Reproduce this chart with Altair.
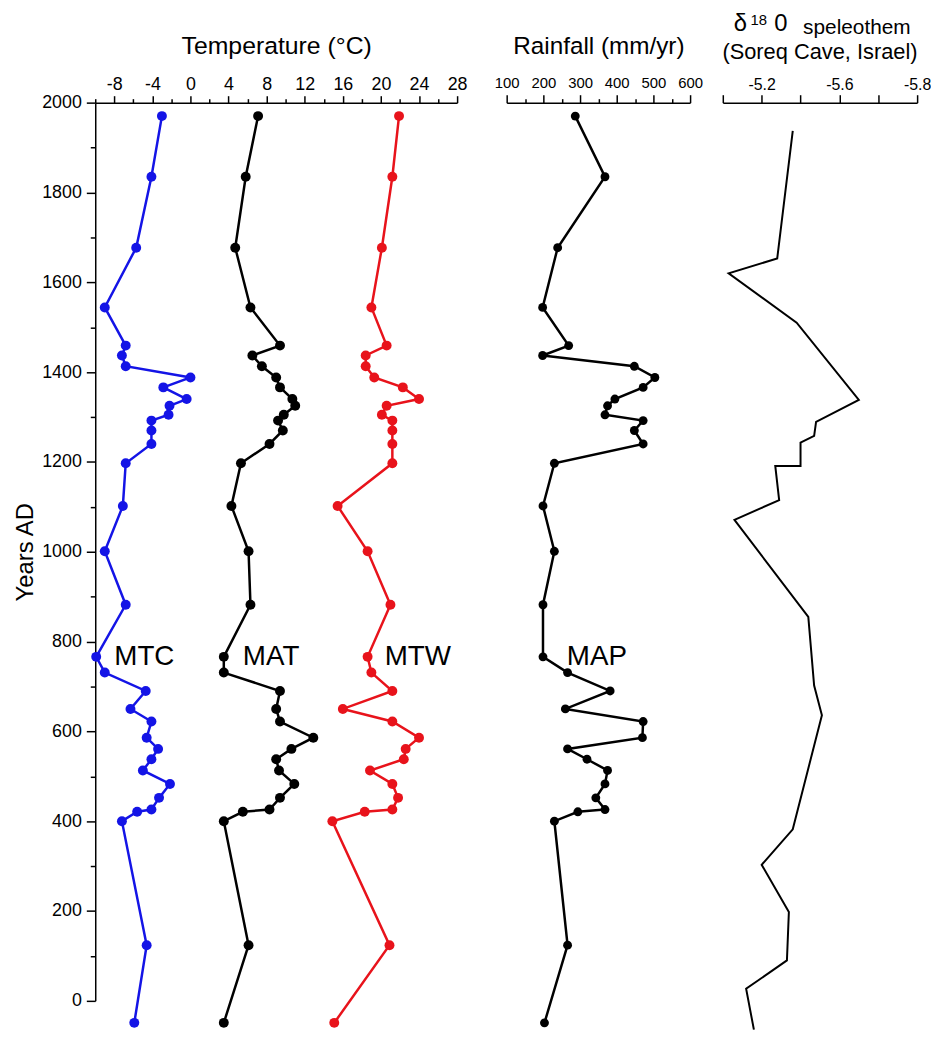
import altair as alt
import pandas as pd

FONT = "Liberation Sans"

# ---- data ----
years = [1970, 1835, 1677, 1544, 1459, 1437, 1413, 1388, 1366, 1340, 1325, 1305,
         1292, 1270, 1240, 1197, 1102, 1001, 882, 766, 731, 690, 650, 622, 586,
         561, 538, 513, 483, 452, 426, 421, 400, 124, -49]
mtc = [-3.0, -4.1, -5.7, -9.0, -6.8, -7.2, -6.8, 0.0, -2.85, -0.4, -2.2, -2.3,
       -4.1, -4.1, -4.1, -6.8, -7.1, -9.0, -6.8, -9.9, -9.0, -4.7, -6.3, -4.1,
       -4.6, -3.4, -4.1, -5.0, -2.15, -3.3, -4.1, -5.6, -7.2, -4.6, -5.9]
mat = [7.1, 5.8, 4.7, 6.3, 9.4, 6.5, 7.5, 9.0, 9.4, 10.7, 11.0, 9.8, 9.2, 9.7,
       8.3, 5.3, 4.3, 6.1, 6.3, 3.5, 3.5, 9.4, 9.0, 9.4, 12.9, 10.6, 9.0, 9.3,
       10.9, 9.4, 8.3, 5.5, 3.5, 6.1, 3.5]
mtw = [21.9, 21.2, 20.1, 19.0, 20.6, 18.4, 18.4, 19.3, 22.3, 24.0, 20.6, 20.1,
       21.2, 21.2, 21.2, 21.2, 15.45, 18.6, 21.0, 18.6, 19.0, 21.2, 16.0, 21.2,
       24.0, 22.6, 22.4, 18.85, 21.2, 21.8, 21.2, 18.3, 14.9, 20.9, 15.1]
rain = [287, 368, 239, 198, 269, 198, 448, 504, 472, 395, 375, 368, 472, 448,
        472, 230, 199, 230, 199, 199, 266, 382, 260, 472, 470, 266, 319, 375,
        368, 343, 368, 294, 230, 266, 203]

d18o_years = [1937, 1653, 1620, 1510, 1338, 1289, 1258, 1243, 1191, 1191, 1115,
              1071, 855, 702, 636, 382, 303, 198, 90, 27, -64]
d18o_vals = [-5.36, -5.28, -5.03, -5.38, -5.70, -5.48, -5.47, -5.40, -5.40,
             -5.27, -5.29, -5.06, -5.44, -5.47, -5.51, -5.36, -5.20, -5.34,
             -5.33, -5.12, -5.16]

temp_labels = ["MTC", "MAT", "MTW"]
temp_label_x = [-8.0, 5.5, 20.4]
map_label = ["MAP"]
map_label_x = [264]
label_year = 748

y_major_ticks = list(range(0, 2001, 200))
y_minor_ticks = list(range(100, 2000, 200))
t_major_ticks = list(range(-8, 29, 4))
t_minor_ticks = list(range(-10, 27, 4))
r_major_ticks = list(range(100, 601, 100))
r_minor_ticks = list(range(150, 551, 100))
d_ticks = [-5.0, -5.2, -5.4, -5.6, -5.8, -6.0]

df = pd.DataFrame({"idx": list(range(len(years))), "year": years,
                   "MTC": mtc, "MAT": mat, "MTW": mtw, "MAP": rain})
dd = pd.DataFrame({"idx": list(range(len(d18o_years))), "year": d18o_years,
                   "d18O": d18o_vals})
tl = pd.DataFrame({"name": temp_labels, "x": temp_label_x,
                   "year": [label_year] * len(temp_labels)})
ml = pd.DataFrame({"name": map_label, "x": map_label_x,
                   "year": [label_year] * len(map_label)})

BLUE = "#1414e6"
RED = "#e8131b"
BLACK = "#000000"
H = 906

yscale = alt.Scale(domain=[0, 2000], nice=False, zero=False)
tscale = alt.Scale(domain=[-10, 28], nice=False, zero=False)
rscale = alt.Scale(domain=[100, 600], nice=False, zero=False)
dscale = alt.Scale(domain=[-6.0, -5.0], reverse=True, nice=False, zero=False)

PLAIN = "'' + datum.value"

y_major = alt.Axis(orient="left", values=y_major_ticks, labelExpr=PLAIN,
                   labelFlush=False, title="Years AD", titleFontSize=24,
                   titleFontWeight="normal", labelFontSize=18, tickSize=9,
                   labelPadding=5, titlePadding=4)
y_minor = alt.Axis(orient="left", values=y_minor_ticks, labels=False,
                   domain=False, tickSize=5, title=None)

t_major = alt.Axis(orient="top", values=t_major_ticks, labelExpr=PLAIN,
                   labelOverlap=False, labelFlush=False, title="Temperature (°C)",
                   titleFontSize=25, titleFontWeight="normal", titlePadding=18,
                   labelFontSize=18, tickSize=7, labelPadding=2)
t_minor = alt.Axis(orient="top", values=t_minor_ticks, labels=False,
                   domain=False, tickSize=4, title=None)

r_major = alt.Axis(orient="top", values=r_major_ticks, labelExpr=PLAIN,
                   labelOverlap=False, labelFlush=False, title="Rainfall (mm/yr)",
                   titleFontSize=24.5, titleFontWeight="normal", titlePadding=18,
                   labelFontSize=15, tickSize=8, labelPadding=4)
r_minor = alt.Axis(orient="top", values=r_minor_ticks, labels=False,
                   domain=False, tickSize=4, title=None)

d_axis = alt.Axis(orient="top", values=d_ticks, title=None, labelFontSize=16,
                  labelOverlap=False, labelFlush=False, tickSize=8, labelPadding=2,
                  labelExpr="datum.value == -5.2 ? '-5.2' : datum.value == -5.6 ? '-5.6' : datum.value == -6 ? '-5.8' : ''")


def series(data, field, scale, color, xaxis, yaxis, size):
    line = alt.Chart(data).mark_line(color=color, strokeWidth=2.5).encode(
        x=alt.X(f"{field}:Q", scale=scale, axis=xaxis),
        y=alt.Y("year:Q", scale=yscale, axis=yaxis),
        order="idx:Q",
    )
    pts = alt.Chart(data).mark_circle(color=color, size=size, opacity=1).encode(
        x=alt.X(f"{field}:Q", scale=scale, axis=None),
        y=alt.Y("year:Q", scale=yscale, axis=None),
    )
    return [line, pts]


def labels(data, scale):
    return alt.Chart(data).mark_text(align="left", baseline="alphabetic",
                                     fontSize=28, font=FONT, color=BLACK).encode(
        x=alt.X("x:Q", scale=scale, axis=None),
        y=alt.Y("year:Q", scale=yscale, axis=None),
        text="name:N",
    )


p1 = alt.layer(
    *series(df, "MTC", tscale, BLUE, t_major, y_major, 100),
    *series(df, "MAT", tscale, BLACK, t_minor, y_minor, 100),
    *series(df, "MTW", tscale, RED, None, None, 100),
    labels(tl, tscale),
).resolve_axis(x="independent", y="independent").properties(width=365, height=H)

p2 = alt.layer(
    *series(df, "MAP", rscale, BLACK, r_major, None, 80),
    alt.Chart(df).mark_point(opacity=0).encode(
        x=alt.X("MAP:Q", scale=rscale, axis=r_minor),
        y=alt.Y("year:Q", scale=yscale, axis=None),
    ),
    labels(ml, rscale),
).resolve_axis(x="independent", y="independent").properties(width=185, height=H)


def piece(s, x, y, size, align="left"):
    return alt.Chart(pd.DataFrame({"t": [s]})).mark_text(
        align=align, baseline="alphabetic", fontSize=size, font=FONT, color=BLACK
    ).encode(text="t:N", x=alt.value(x), y=alt.value(y))


d_line = alt.Chart(dd).mark_line(color=BLACK, strokeWidth=2).encode(
    x=alt.X("d18O:Q", scale=dscale, axis=d_axis),
    y=alt.Y("year:Q", scale=yscale, axis=None),
    order="idx:Q",
)

p3 = alt.layer(
    d_line,
    piece("δ", 11, -72, 24),
    piece("18", 28, -78, 15),
    piece("0", 52, -72, 24),
    piece("speleothem", 81, -69, 21),
    piece("(Soreq Cave, Israel)", 98, -44, 22, align="center"),
).properties(width=196, height=H)

right = alt.hconcat(p2, p3, spacing=33, bounds="flush")
chart = alt.hconcat(p1, right, spacing=50, bounds="flush").properties(
    padding={"left": 5, "top": 0, "right": 0, "bottom": 0}
).configure_view(stroke=None).configure_axis(
    labelFont=FONT, titleFont=FONT, labelColor=BLACK, titleColor=BLACK,
    domainColor=BLACK, tickColor=BLACK, domainWidth=1.5, tickWidth=1.5,
    grid=False,
)

chart.save("out.html", embed_options={"renderer": "svg", "actions": False})
